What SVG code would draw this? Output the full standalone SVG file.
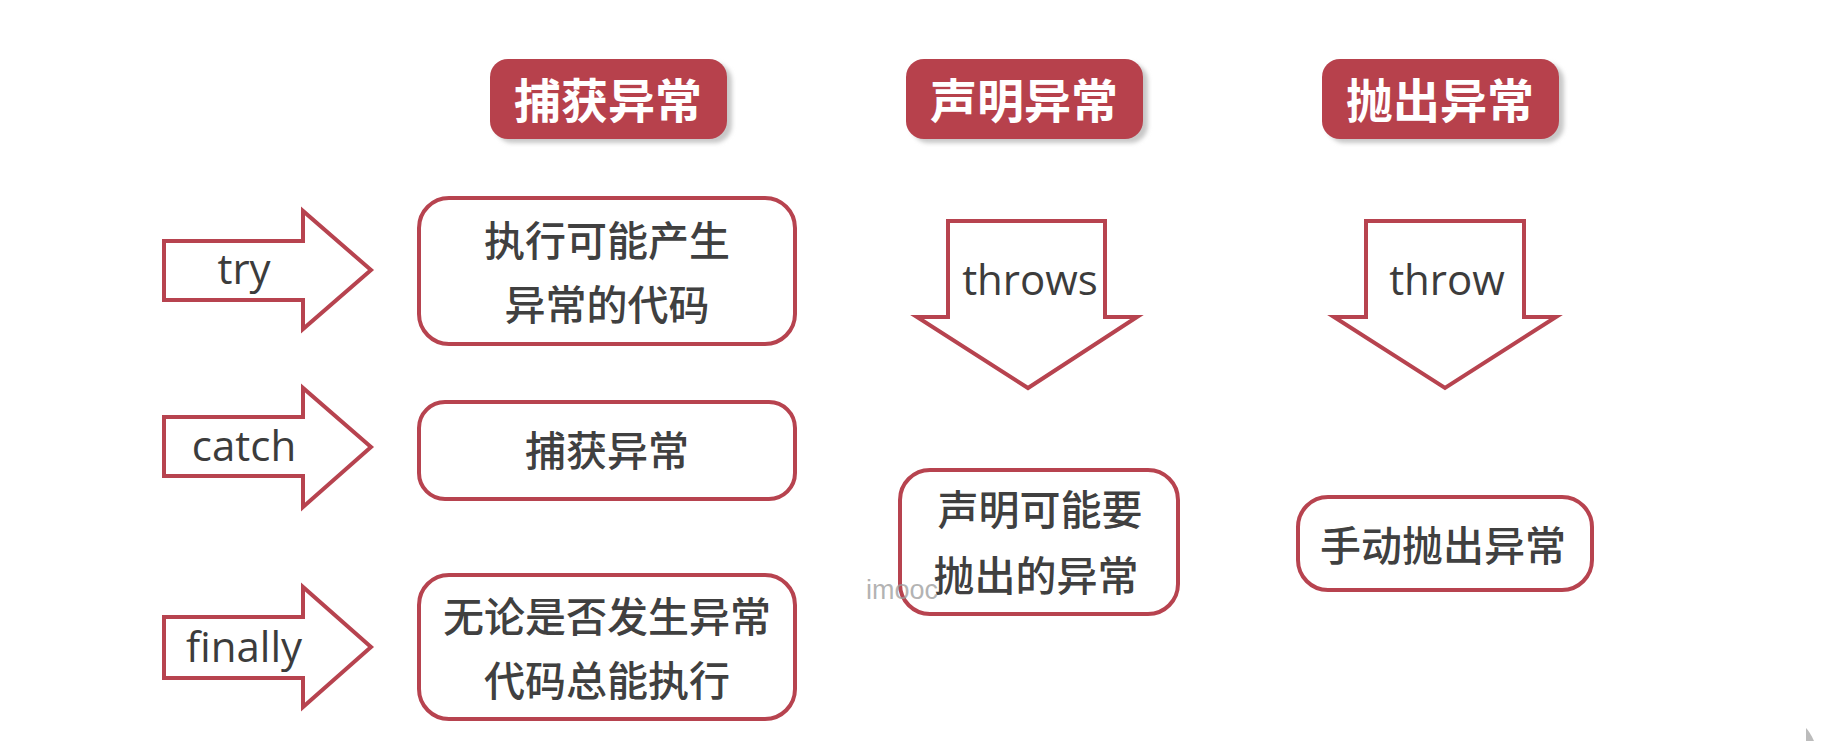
<svg xmlns="http://www.w3.org/2000/svg" width="1842" height="741" viewBox="0 0 1842 741">
<defs>
<filter id="blur" x="-10%" y="-20%" width="120%" height="140%"><feGaussianBlur stdDeviation="2"/></filter>
<style>
.hdr{fill:#b7414c}
.hsh{fill:#c8c8c8;filter:url(#blur)}
.htx{font-family:"Noto Sans CJK SC",sans-serif;font-weight:bold;font-size:47px;fill:#ffffff;text-anchor:middle;dominant-baseline:central}
.box{fill:#ffffff;stroke:#b7434f;stroke-width:4}
.arr{fill:#ffffff;stroke:#b7434f;stroke-width:4;stroke-linejoin:miter}
.cn{font-family:"Noto Sans CJK SC",sans-serif;font-size:41px;font-weight:500;fill:#404040;text-anchor:middle;dominant-baseline:central}
.en{font-family:"Open Sans","Liberation Sans",sans-serif;font-size:42px;fill:#3c3c3c;text-anchor:middle;dominant-baseline:central}
.wm{font-family:"Liberation Sans",sans-serif;font-size:27px;fill:#9a9a9a;fill-opacity:0.75;dominant-baseline:central}
</style>
</defs>
<rect width="1842" height="741" fill="#ffffff"/>

<g id="hdr-catch">
<rect class="hsh" x="495" y="63" width="237" height="80" rx="18"/>
<rect class="hdr" x="490" y="59" width="237" height="80" rx="18"/>
<text class="htx" x="608" y="97">捕获异常</text>
</g>
<g id="hdr-declare">
<rect class="hsh" x="911" y="63" width="237" height="80" rx="18"/>
<rect class="hdr" x="906" y="59" width="237" height="80" rx="18"/>
<text class="htx" x="1024" y="97">声明异常</text>
</g>
<g id="hdr-throw">
<rect class="hsh" x="1327" y="63" width="237" height="80" rx="18"/>
<rect class="hdr" x="1322" y="59" width="237" height="80" rx="18"/>
<text class="htx" x="1440" y="97">抛出异常</text>
</g>

<g id="connectors">
<g id="arrow-try">
<polygon class="arr" points="164,241 303,241 303,211 371,270 303,329 303,300 164,300"/>
<text class="en" x="244" y="267">try</text>
</g>
<g id="arrow-catch">
<polygon class="arr" points="164,417 303,417 303,388 371,447 303,507 303,476 164,476"/>
<text class="en" x="244" y="444">catch</text>
</g>
<g id="arrow-finally">
<polygon class="arr" points="164,617 303,617 303,587 371,647 303,707 303,678 164,678"/>
<text class="en" x="244" y="645">finally</text>
</g>
<g id="arrow-throws">
<polygon class="arr" points="948,221 1105,221 1105,317 1137,317 1028,388 917,317 948,317"/>
<text class="en" x="1030" y="278">throws</text>
</g>
<g id="arrow-throw">
<polygon class="arr" points="1366,221 1524,221 1524,317 1556,317 1445,388 1334,317 1366,317"/>
<text class="en" x="1447" y="278">throw</text>
</g>
</g>

<g id="box-try">
<rect class="box" x="419" y="198" width="376" height="146" rx="30"/>
<text class="cn" x="607" y="238">执行可能产生</text>
<text class="cn" x="607" y="302">异常的代码</text>
</g>
<g id="box-catch">
<rect class="box" x="419" y="402" width="376" height="97" rx="26"/>
<text class="cn" x="607" y="448">捕获异常</text>
</g>
<g id="box-finally">
<rect class="box" x="419" y="575" width="376" height="144" rx="30"/>
<text class="cn" x="607" y="614">无论是否发生异常</text>
<text class="cn" x="607" y="678">代码总能执行</text>
</g>
<g id="box-throws">
<rect class="box" x="900" y="470" width="278" height="144" rx="30"/>
<text class="cn" x="1040" y="507">声明可能要</text>
<text class="cn" x="1036" y="573">抛出的异常</text>
</g>
<g id="box-throw">
<rect class="box" x="1298" y="497" width="294" height="93" rx="30"/>
<text class="cn" x="1443" y="543">手动抛出异常</text>
</g>

<text class="wm" x="866" y="590">imooc</text>
<path d="M1806,741 L1806,728 Q1810,732 1814,741 Z" fill="#bcbcbc"/>
</svg>
